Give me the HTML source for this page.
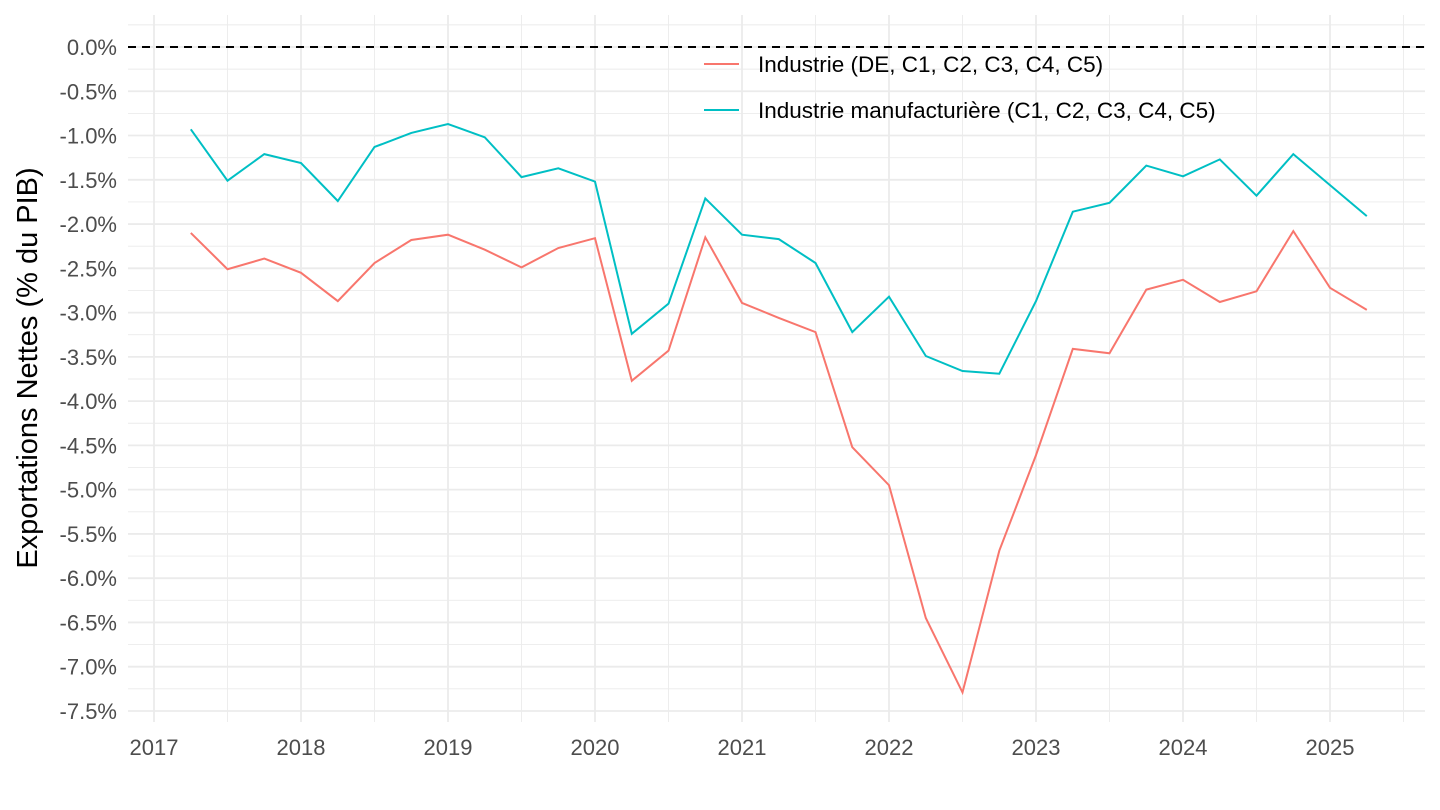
<!DOCTYPE html>
<html><head><meta charset="utf-8"><style>
html,body{margin:0;padding:0;background:#fff;}
svg{display:block;font-family:"Liberation Sans",Arial,sans-serif;}
</style></head><body>
<svg id="chart" width="1440" height="810"></svg>
<script>
const quarters=["2017Q2","2017Q3","2017Q4","2018Q1","2018Q2","2018Q3","2018Q4","2019Q1","2019Q2","2019Q3","2019Q4","2020Q1","2020Q2","2020Q3","2020Q4","2021Q1","2021Q2","2021Q3","2021Q4","2022Q1","2022Q2","2022Q3","2022Q4","2023Q1","2023Q2","2023Q3","2023Q4","2024Q1","2024Q2","2024Q3","2024Q4","2025Q1","2025Q2"];
const industrie=[-2.10,-2.51,-2.39,-2.55,-2.87,-2.44,-2.18,-2.12,-2.29,-2.49,-2.27,-2.16,-3.77,-3.43,-2.15,-2.89,-3.06,-3.22,-4.52,-4.95,-6.45,-7.29,-5.69,-4.61,-3.41,-3.46,-2.74,-2.63,-2.88,-2.76,-2.08,-2.72,-2.97];
const manuf=[-0.93,-1.51,-1.21,-1.31,-1.74,-1.13,-0.97,-0.87,-1.02,-1.47,-1.37,-1.52,-3.24,-2.90,-1.71,-2.12,-2.17,-2.44,-3.22,-2.82,-3.49,-3.66,-3.69,-2.87,-1.86,-1.76,-1.34,-1.46,-1.27,-1.68,-1.21,-1.56,-1.91];
const yTicks=[0,-0.5,-1,-1.5,-2,-2.5,-3,-3.5,-4,-4.5,-5,-5.5,-6,-6.5,-7,-7.5];
const xTicks=[2017,2018,2019,2020,2021,2022,2023,2024,2025];

const svg=document.getElementById('chart');
const NS='http://www.w3.org/2000/svg';
const L=128,R=1425,T=15,B=722;
function X(t){return 154+(t-2017)*147;}
function Y(v){return 47-v*88.53;}
function qToT(q){return +q.slice(0,4)+(+q.slice(5)-1)/4;}
function el(tag,attrs,parent){const e=document.createElementNS(NS,tag);for(const k in attrs)e.setAttribute(k,attrs[k]);(parent||svg).appendChild(e);return e;}

const grid=el('g',{});


for(let v=0.25;v>=-7.5;v-=0.25){
  const major=Math.abs(v*2-Math.round(v*2))<1e-6;
  el('line',{x1:L,x2:R,y1:Y(v),y2:Y(v),stroke:'#ebebeb','stroke-width':major?1.8:0.9},grid);
}
for(let t=2017;t<=2025.5;t+=0.5){
  const major=Number.isInteger(t);
  el('line',{x1:X(t),x2:X(t),y1:T,y2:B,stroke:'#ebebeb','stroke-width':major?1.8:0.9},grid);
}
const zl=el('line',{x1:L,x2:R,y1:Y(0),y2:Y(0),stroke:'#000','stroke-width':2,'stroke-dasharray':'8,6'});



yTicks.forEach(v=>{
  const t=el('text',{x:117,y:Y(v)+8,'text-anchor':'end','font-size':22,fill:'#4d4d4d'});
  t.textContent=v.toFixed(1)+'%';
  
  
});
xTicks.forEach(yr=>{
  const t=el('text',{x:X(yr),y:755,'text-anchor':'middle','font-size':22,fill:'#4d4d4d'});
  t.textContent=yr;
  
  
});
const yt=el('text',{x:0,y:0,transform:'translate(37,368) rotate(-90)','text-anchor':'middle','font-size':29,fill:'#000'});
yt.textContent='Exportations Nettes (% du PIB)';



function series(vals,color,name){
  const d=vals.map((v,i)=>(i?'L':'M')+X(qToT(quarters[i])).toFixed(1)+','+Y(v).toFixed(1)).join(' ');
  const p=el('path',{d:d,fill:'none',stroke:color,'stroke-width':2});
  
  
}
series(industrie,'#f8766d','line-industrie');
series(manuf,'#00bfc4','line-industrie-manufacturiere');

const legend=[['Industrie (DE, C1, C2, C3, C4, C5)','#f8766d',64],['Industrie manufacturière (C1, C2, C3, C4, C5)','#00bfc4',110]];
legend.forEach(([lab,c,y])=>{
  const g=el('g',{});
  
  
  el('line',{x1:704,x2:739,y1:y,y2:y,stroke:c,'stroke-width':2},g);
  const t=el('text',{x:758,y:y+8,'font-size':22.5,fill:'#000'},g);
  t.textContent=lab;
});
</script>
</body></html>
